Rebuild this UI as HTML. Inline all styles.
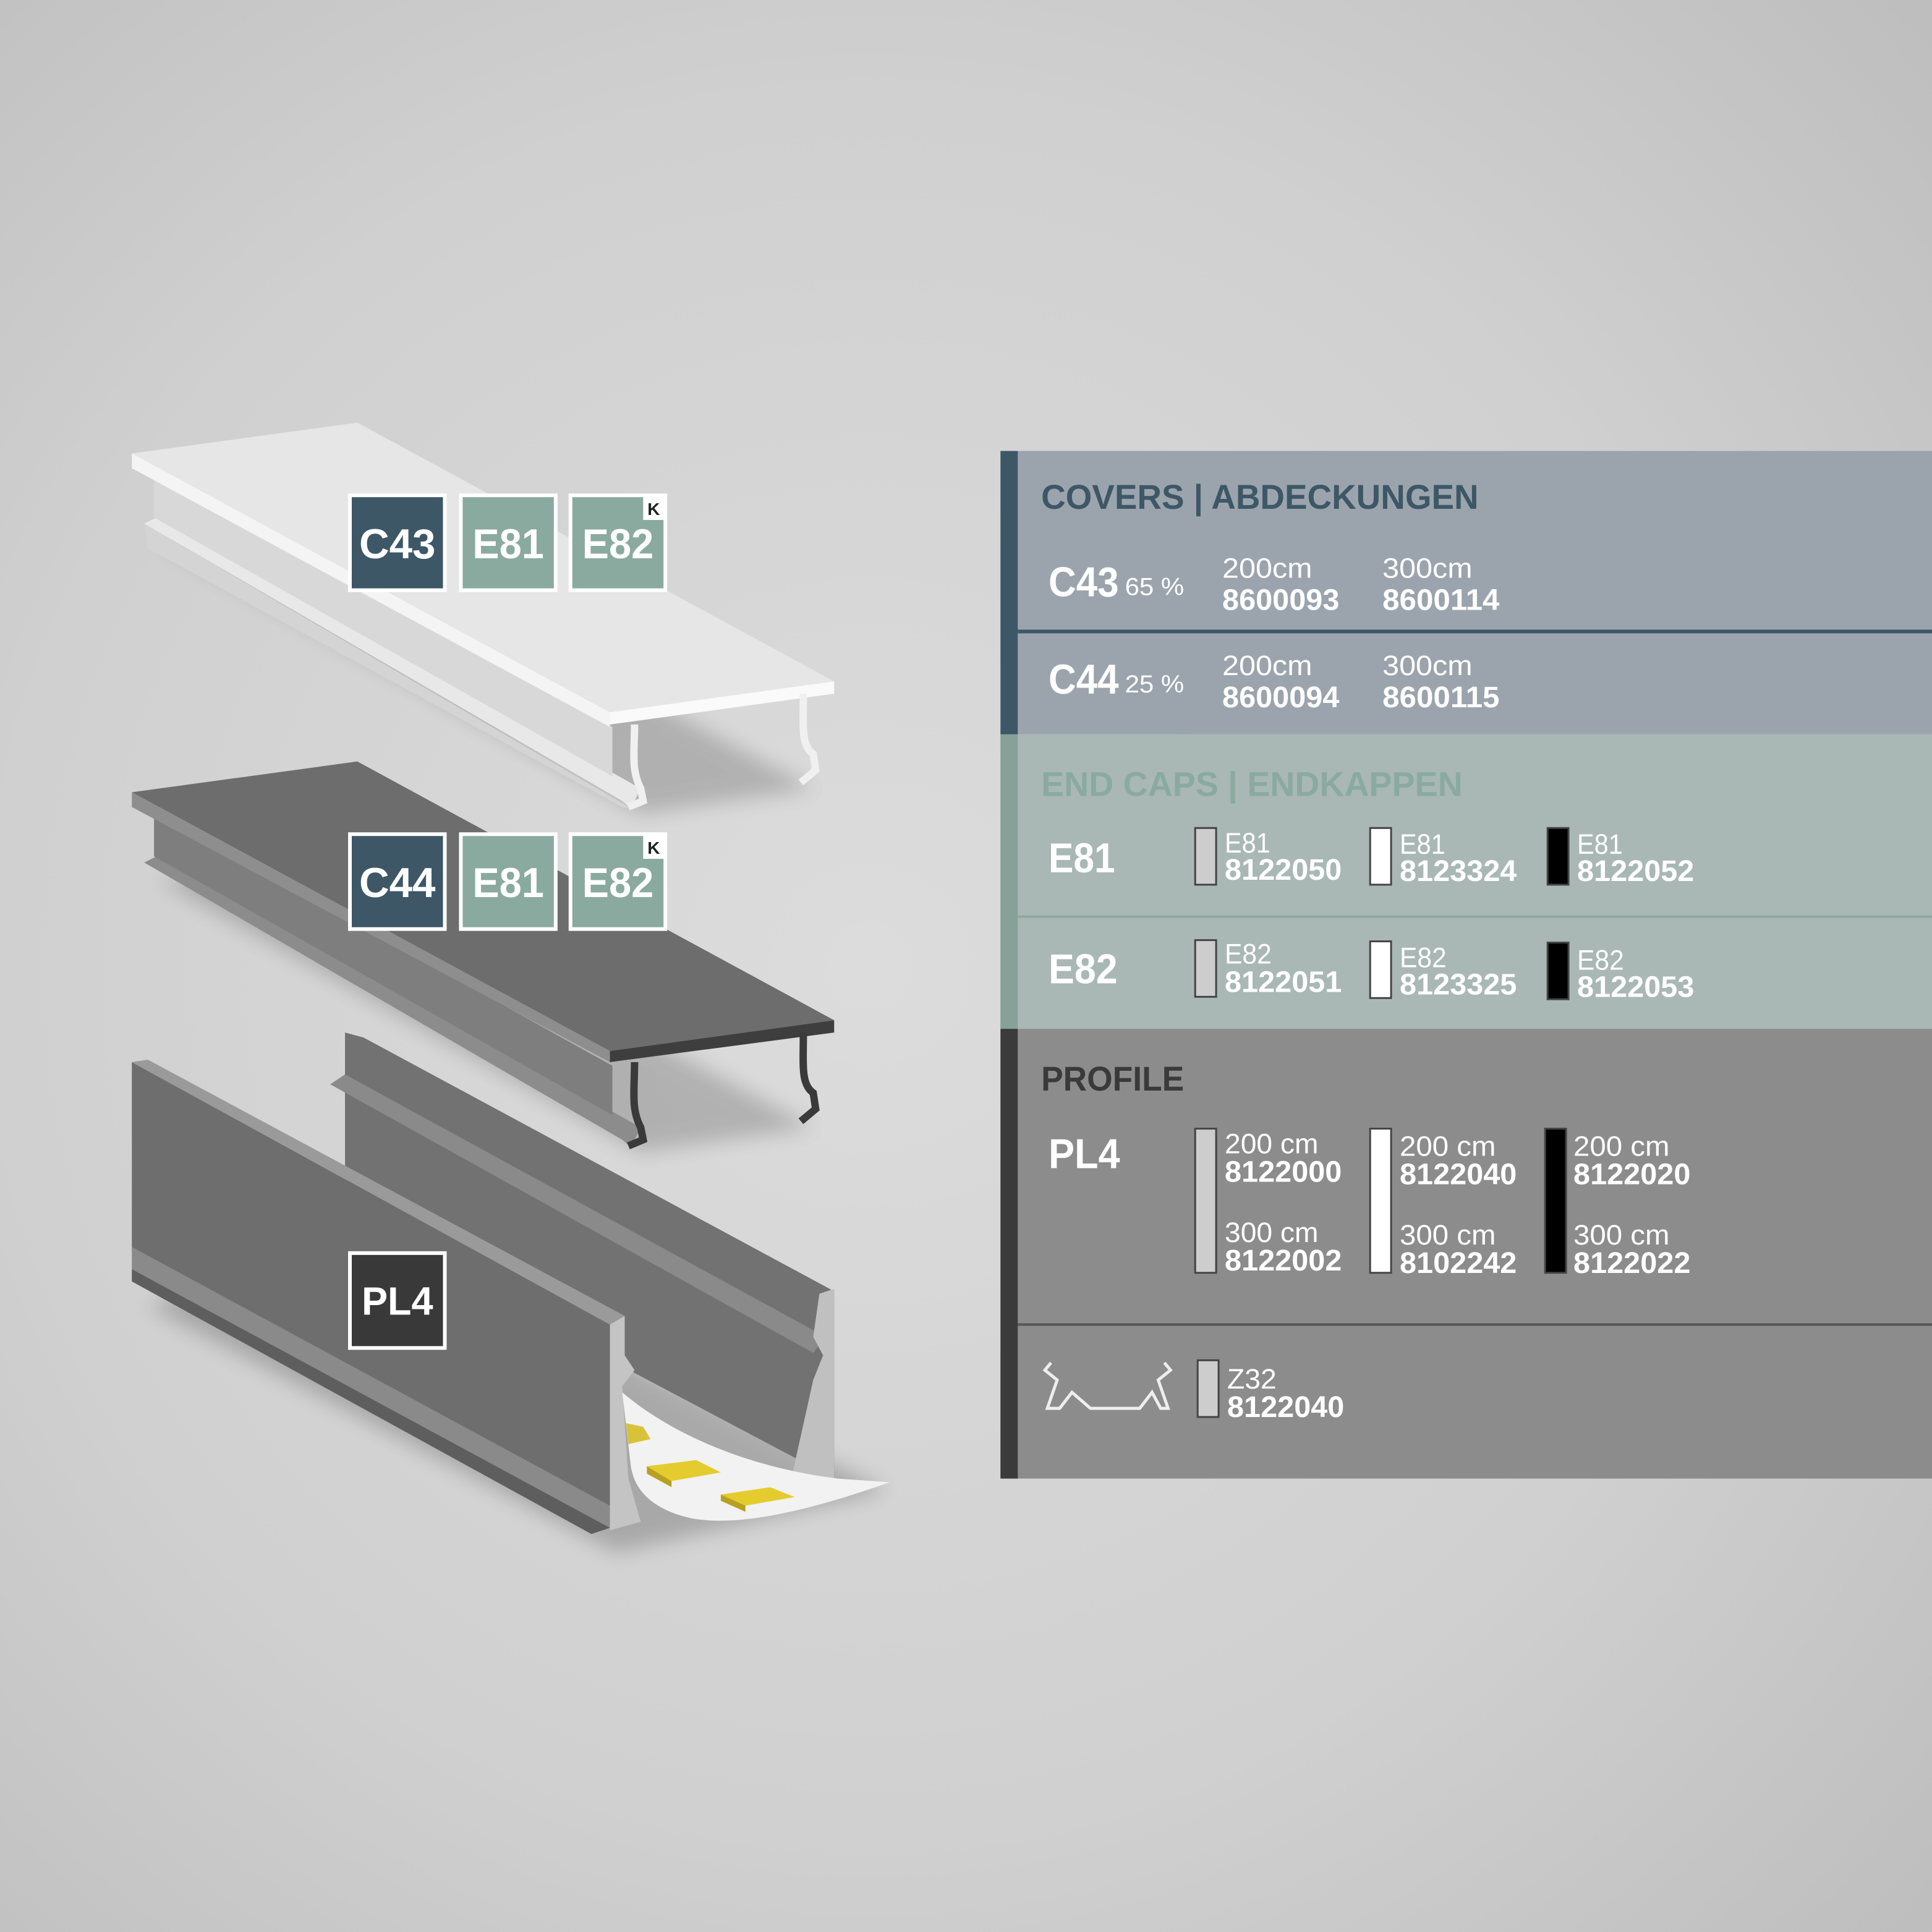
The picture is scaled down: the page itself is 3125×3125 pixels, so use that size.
<!DOCTYPE html>
<html><head><meta charset="utf-8"><style>html,body{margin:0;padding:0;width:3125px;height:3125px;overflow:hidden}svg{display:block}</style></head>
<body>
<svg width="3125" height="3125" viewBox="0 0 1568 1568" xmlns="http://www.w3.org/2000/svg" font-family="Liberation Sans, sans-serif">
<defs>
<radialGradient id="bg" cx="0.45" cy="0.5" r="0.75">
<stop offset="0" stop-color="#dcdcdc"/><stop offset="0.6" stop-color="#d0d0d0"/><stop offset="1" stop-color="#bdbdbd"/></radialGradient>
<filter id="sh" x="-20%" y="-20%" width="140%" height="140%"><feGaussianBlur stdDeviation="8"/></filter>
</defs>
<rect width="1568" height="1568" fill="url(#bg)"/>

<!-- White cover -->
<polygon points="130,440 520,660 660,640 250,420" fill="#000" opacity="0.18" filter="url(#sh)"/>
<polygon points="117,425 127,420 520,640 512,656 505,650" fill="#e8e8e8"/>
<polygon points="117,425 120,445 505,655 512,656" fill="#d4d4d4"/>
<polygon points="125,383 125,420 497,630 497,590" fill="#d8d8d8"/>
<polygon points="107,368 290,343 677,553 495,578" fill="#e6e6e6"/>
<polygon points="107,368 495,578 495,590 107,380" fill="#f4f4f4"/>
<polygon points="495,578 677,553 677,563 495,588" fill="#fafafa"/>
<path d="M515,588 C515,610 512,625 520,640 L522,650 L510,655" fill="none" stroke="#f0f0f0" stroke-width="6"/>
<path d="M652,563 C652,590 650,605 660,612 L662,625 L650,635" fill="none" stroke="#f0f0f0" stroke-width="6"/>

<!-- Dark cover -->
<polygon points="130,715 520,935 660,915 250,695" fill="#000" opacity="0.18" filter="url(#sh)"/>
<polygon points="117,700 127,695 520,915 512,931 505,925" fill="#8c8c8c"/>
<polygon points="125,658 125,695 497,905 497,865" fill="#7e7e7e"/>
<polygon points="107,643 290,618 677,828 495,853" fill="#6d6d6d"/>
<polygon points="107,643 495,853 495,862 107,655" fill="#8e8e8e"/>
<polygon points="495,853 677,828 677,838 495,862" fill="#3e3e3e"/>
<path d="M515,862 C515,885 512,900 520,915 L522,925 L510,930" fill="none" stroke="#3a3a3a" stroke-width="6"/>
<path d="M652,838 C652,865 650,880 660,887 L662,900 L650,910" fill="none" stroke="#3a3a3a" stroke-width="6"/>

<!-- PL4 profile -->
<polygon points="120,1060 500,1260 720,1210 300,1000" fill="#000" opacity="0.2" filter="url(#sh)"/>
<polygon points="280,838 295,842 677,1048 677,1200 280,990" fill="#727272"/>
<polygon points="268,880 280,872 670,1085 660,1098" fill="#8a8a8a"/>
<polygon points="107,862 107,1015 495,1230 495,1075" fill="#6e6e6e"/>
<polygon points="107,862 120,860 507,1068 495,1075" fill="#9a9a9a"/>
<polygon points="107,1012 107,1030 495,1240 495,1222" fill="#8a8a8a"/>
<polygon points="107,1030 107,1040 480,1245 495,1240" fill="#5e5e5e"/>
<polygon points="495,1075 507,1068 507,1100 515,1112 505,1125 510,1200 520,1235 495,1242" fill="#c4c4c4"/>
<polygon points="665,1050 677,1046 677,1200 640,1210 660,1120 668,1100 660,1085" fill="#c0c0c0"/>
<path d="M505,1130 C540,1160 600,1190 680,1200 L722,1203 C660,1225 600,1240 560,1232 C530,1225 515,1210 512,1190 Z" fill="#f2f2f2"/>
<polygon points="508,1155 522,1158 528,1168 510,1172" fill="#d8c23a"/>
<polygon points="525,1190 565,1185 585,1195 545,1202" fill="#e4cc2e"/>
<polygon points="525,1190 545,1202 545,1207 525,1196" fill="#b8a020"/>
<polygon points="585,1213 625,1207 645,1215 605,1222" fill="#e4cc2e"/>
<polygon points="585,1213 605,1222 605,1227 585,1218" fill="#b8a020"/>

<!-- Labels -->
<g font-weight="bold" font-size="34" fill="#fff" text-anchor="middle">
<rect x="284" y="402" width="77" height="77" fill="#3d5767" stroke="#fff" stroke-width="3"/><text x="322.5" y="453" textLength="62" lengthAdjust="spacingAndGlyphs">C43</text>
<rect x="374" y="402" width="77" height="77" fill="#8aaa9f" stroke="#fff" stroke-width="3"/><text x="412.5" y="453" textLength="58" lengthAdjust="spacingAndGlyphs">E81</text>
<rect x="463" y="402" width="77" height="77" fill="#8aaa9f" stroke="#fff" stroke-width="3"/><text x="501.5" y="453" textLength="58" lengthAdjust="spacingAndGlyphs">E82</text>
<rect x="522" y="403" width="17" height="19" fill="#fff"/><text x="530.5" y="418" font-size="14" fill="#222">K</text>
<rect x="284" y="677" width="77" height="77" fill="#3d5767" stroke="#fff" stroke-width="3"/><text x="322.5" y="728" textLength="62" lengthAdjust="spacingAndGlyphs">C44</text>
<rect x="374" y="677" width="77" height="77" fill="#8aaa9f" stroke="#fff" stroke-width="3"/><text x="412.5" y="728" textLength="58" lengthAdjust="spacingAndGlyphs">E81</text>
<rect x="463" y="677" width="77" height="77" fill="#8aaa9f" stroke="#fff" stroke-width="3"/><text x="501.5" y="728" textLength="58" lengthAdjust="spacingAndGlyphs">E82</text>
<rect x="522" y="678" width="17" height="19" fill="#fff"/><text x="530.5" y="693" font-size="14" fill="#222">K</text>
<rect x="284" y="1017" width="77" height="77" fill="#393939" stroke="#fff" stroke-width="3"/><text x="322.5" y="1067" font-size="32" textLength="58" lengthAdjust="spacingAndGlyphs">PL4</text>
</g>

<!-- Right panel -->
<rect x="812" y="366" width="756" height="230" fill="#9ba4ac"/>
<rect x="812" y="596" width="756" height="239" fill="#a9b8b4"/>
<rect x="812" y="835" width="756" height="365" fill="#8c8c8c"/>
<rect x="812" y="366" width="14" height="230" fill="#3d5767"/>
<rect x="812" y="596" width="14" height="239" fill="#86a198"/>
<rect x="812" y="835" width="14" height="365" fill="#3b3b3b"/>
<rect x="826" y="511" width="742" height="3" fill="#3d5767"/>
<rect x="826" y="743" width="742" height="2" fill="#8fa9a0"/>
<rect x="826" y="1074" width="742" height="2" fill="#555"/>

<g font-weight="bold">
<text x="845" y="413" font-size="28" fill="#3d5767" textLength="355" lengthAdjust="spacingAndGlyphs">COVERS | ABDECKUNGEN</text>
<text x="845" y="646" font-size="28" fill="#8aaa9f" textLength="342" lengthAdjust="spacingAndGlyphs">END CAPS | ENDKAPPEN</text>
<text x="845" y="885" font-size="28" fill="#3a3a3a" textLength="116" lengthAdjust="spacingAndGlyphs">PROFILE</text>
<g fill="#fff" font-size="34">
<text x="851" y="484" textLength="57" lengthAdjust="spacingAndGlyphs">C43</text>
<text x="851" y="563" textLength="57" lengthAdjust="spacingAndGlyphs">C44</text>
<text x="851" y="708" textLength="54" lengthAdjust="spacingAndGlyphs">E81</text>
<text x="851" y="798" textLength="56" lengthAdjust="spacingAndGlyphs">E82</text>
<text x="851" y="948" textLength="58" lengthAdjust="spacingAndGlyphs">PL4</text>
</g>
<g fill="#fff" font-size="24">
<text x="992" y="495" textLength="95" lengthAdjust="spacingAndGlyphs">8600093</text>
<text x="1122" y="495" textLength="95" lengthAdjust="spacingAndGlyphs">8600114</text>
<text x="992" y="574" textLength="95" lengthAdjust="spacingAndGlyphs">8600094</text>
<text x="1122" y="574" textLength="95" lengthAdjust="spacingAndGlyphs">8600115</text>
<text x="994" y="714" textLength="95" lengthAdjust="spacingAndGlyphs">8122050</text>
<text x="1136" y="715" textLength="95" lengthAdjust="spacingAndGlyphs">8123324</text>
<text x="1280" y="715" textLength="95" lengthAdjust="spacingAndGlyphs">8122052</text>
<text x="994" y="805" textLength="95" lengthAdjust="spacingAndGlyphs">8122051</text>
<text x="1136" y="807" textLength="95" lengthAdjust="spacingAndGlyphs">8123325</text>
<text x="1280" y="809" textLength="95" lengthAdjust="spacingAndGlyphs">8122053</text>
<text x="994" y="959" textLength="95" lengthAdjust="spacingAndGlyphs">8122000</text>
<text x="1136" y="961" textLength="95" lengthAdjust="spacingAndGlyphs">8122040</text>
<text x="1277" y="961" textLength="95" lengthAdjust="spacingAndGlyphs">8122020</text>
<text x="994" y="1031" textLength="95" lengthAdjust="spacingAndGlyphs">8122002</text>
<text x="1136" y="1033" textLength="95" lengthAdjust="spacingAndGlyphs">8102242</text>
<text x="1277" y="1033" textLength="95" lengthAdjust="spacingAndGlyphs">8122022</text>
<text x="996" y="1150" textLength="95" lengthAdjust="spacingAndGlyphs">8122040</text>
</g>
</g>
<g fill="#fff" font-size="23">
<text x="913" y="483" font-size="20" textLength="48" lengthAdjust="spacingAndGlyphs">65 %</text>
<text x="913" y="562" font-size="20" textLength="48" lengthAdjust="spacingAndGlyphs">25 %</text>
<text x="992" y="469" textLength="73" lengthAdjust="spacingAndGlyphs">200cm</text>
<text x="1122" y="469" textLength="73" lengthAdjust="spacingAndGlyphs">300cm</text>
<text x="992" y="548" textLength="73" lengthAdjust="spacingAndGlyphs">200cm</text>
<text x="1122" y="548" textLength="73" lengthAdjust="spacingAndGlyphs">300cm</text>
<text x="994" y="692" textLength="37" lengthAdjust="spacingAndGlyphs">E81</text>
<text x="1136" y="693" textLength="37" lengthAdjust="spacingAndGlyphs">E81</text>
<text x="1280" y="693" textLength="37" lengthAdjust="spacingAndGlyphs">E81</text>
<text x="994" y="782" textLength="38" lengthAdjust="spacingAndGlyphs">E82</text>
<text x="1136" y="785" textLength="38" lengthAdjust="spacingAndGlyphs">E82</text>
<text x="1280" y="787" textLength="38" lengthAdjust="spacingAndGlyphs">E82</text>
<text x="994" y="936" textLength="76" lengthAdjust="spacingAndGlyphs">200 cm</text>
<text x="1136" y="938" textLength="78" lengthAdjust="spacingAndGlyphs">200 cm</text>
<text x="1277" y="938" textLength="78" lengthAdjust="spacingAndGlyphs">200 cm</text>
<text x="994" y="1008" textLength="76" lengthAdjust="spacingAndGlyphs">300 cm</text>
<text x="1136" y="1010" textLength="78" lengthAdjust="spacingAndGlyphs">300 cm</text>
<text x="1277" y="1010" textLength="78" lengthAdjust="spacingAndGlyphs">300 cm</text>
<text x="996" y="1127" textLength="40" lengthAdjust="spacingAndGlyphs">Z32</text>
</g>
<!-- swatches -->
<g stroke="#444" stroke-width="1.5">
<rect x="970" y="672" width="17" height="46" fill="#cdcdcd"/>
<rect x="1112" y="672" width="17" height="46" fill="#fff"/>
<rect x="1256" y="672" width="17" height="46" fill="#000"/>
<rect x="970" y="763" width="17" height="46" fill="#cdcdcd"/>
<rect x="1112" y="764" width="17" height="46" fill="#fff"/>
<rect x="1256" y="765" width="17" height="46" fill="#000"/>
<rect x="970" y="916" width="17" height="117" fill="#cdcdcd"/>
<rect x="1112" y="916" width="17" height="117" fill="#fff"/>
<rect x="1254" y="916" width="17" height="117" fill="#000"/>
<rect x="972" y="1104" width="17" height="46" fill="#cdcdcd"/>
</g>
<path d="M853,1106 L848,1112 L858,1120 L850,1143 L860,1143 L870,1130 L885,1143 L925,1143 L935,1130 L942,1143 L948,1143 L940,1120 L950,1112 L945,1106" fill="none" stroke="#eee" stroke-width="2.5"/>
</svg>
</body></html>
